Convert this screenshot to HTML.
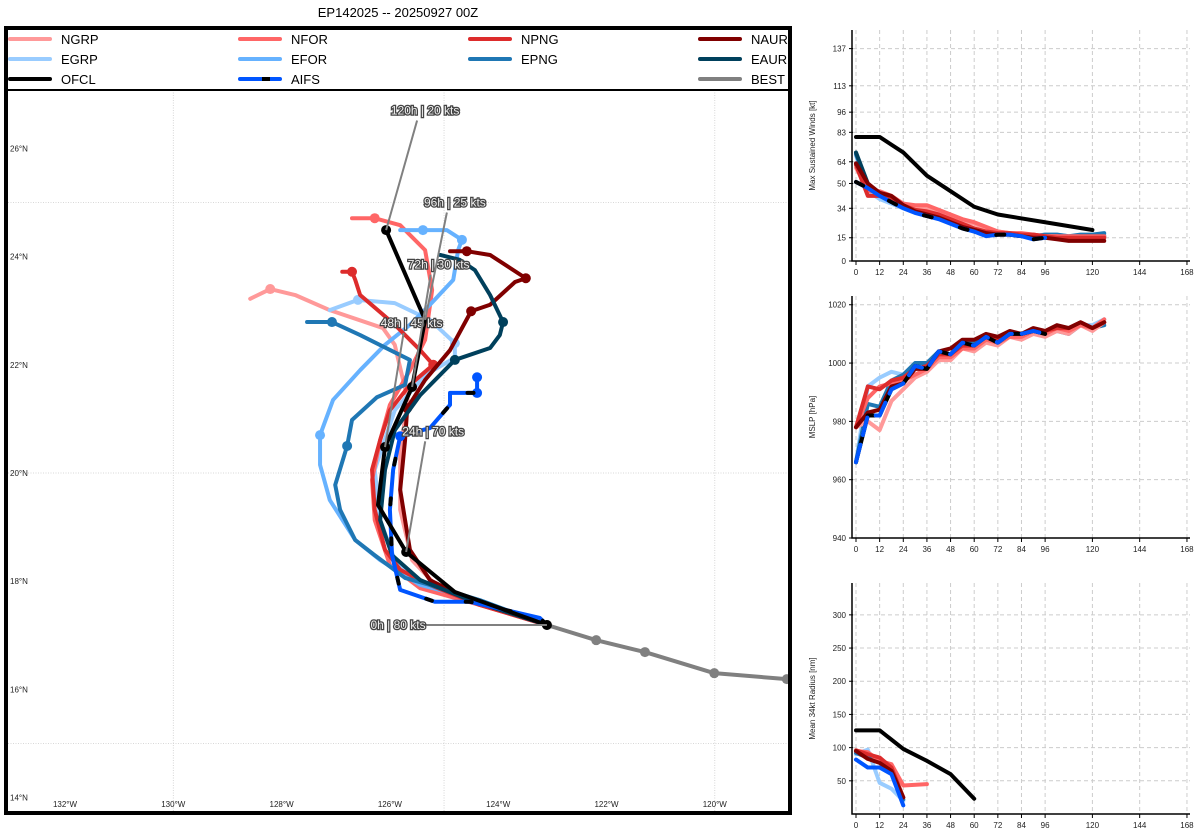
<!DOCTYPE html>
<html><head><meta charset="utf-8">
<style>
body{margin:0;background:#fff;width:1200px;height:840px;overflow:hidden;font-family:"Liberation Sans","DejaVu Sans",sans-serif;}
svg{position:absolute;left:0;top:0;}
</style></head>
<body>
<svg id="c" width="1200" height="840" viewBox="0 0 1200 840" xmlns="http://www.w3.org/2000/svg">
<text x="398" y="17" text-anchor="middle" font-size="13" fill="#000">EP142025 -- 20250927 00Z</text>
<g id="map"></g>
<g id="wind"></g>
<g id="mslp"></g>
<g id="rad"></g>
</svg>
<script>
// ---------- Map data (lon, lat) ----------
const bestLon=[-123.1,-122.19,-121.29,-120.01,-118.67];
const bestLat=[17.19,16.91,16.69,16.30,16.19];
const ofclLon=[-123.1,-124.8,-125.7,-126.22,-126.09,-125.59,-125.35,-126.07];
const ofclLat=[17.19,17.8,18.54,19.41,20.48,21.59,22.83,24.49];
const ngrpLon=[-123.1,-124.15,-125.07,-125.59,-125.81,-125.81,-125.67,-125.91,-126.13,-127.11,-127.75,-128.21,-128.58];
const ngrpLat=[17.19,17.56,17.84,18.39,19.32,20.39,21.35,22.37,22.68,23.01,23.29,23.40,23.22];
const egrpLon=[-123.1,-124.52,-125.44,-125.91,-126.18,-126.28,-125.91,-125.35,-124.8,-124.8,-125.26,-125.91,-126.59,-127.11];
const egrpLat=[17.19,17.65,17.93,18.39,19.13,20.06,21.16,21.81,22.13,22.40,22.83,23.14,23.20,23.01];
const nforLon=[-123.1,-124.34,-125.44,-126.0,-126.28,-126.33,-126.18,-126.0,-125.63,-125.35,-125.22,-125.35,-125.81,-126.28,-126.70];
const nforLat=[17.19,17.56,17.87,18.30,19.13,19.87,20.61,21.26,21.90,22.46,23.38,24.12,24.58,24.71,24.71];
const eforLon=[-123.1,-124.34,-125.44,-126.18,-126.64,-127.11,-127.29,-127.29,-127.05,-126.55,-126.09,-125.63,-125.26,-124.83,-124.74,-124.67,-124.95,-125.39,-125.81];
const eforLat=[17.19,17.65,17.93,18.39,18.76,19.50,20.15,20.70,21.35,21.90,22.37,22.74,23.11,23.57,24.12,24.31,24.49,24.49,24.49];
const npngLon=[-123.1,-124.34,-125.26,-125.81,-126.09,-126.28,-126.33,-126.18,-126.0,-125.63,-125.2,-125.44,-125.91,-126.55,-126.64,-126.70,-126.88];
const npngLat=[17.19,17.56,17.93,18.21,18.58,19.32,20.06,20.61,21.16,21.63,22.0,22.27,22.74,23.29,23.57,23.72,23.72];
const epngLon=[-123.1,-124.34,-125.26,-125.72,-126.28,-126.64,-126.92,-127.01,-126.79,-126.70,-126.24,-125.72,-125.63,-125.81,-126.55,-127.07,-127.53];
const epngLat=[17.19,17.65,17.93,18.06,18.48,18.76,19.32,19.78,20.50,20.98,21.40,21.63,22.09,22.18,22.55,22.79,22.79];
const naurLon=[-123.1,-124.52,-125.26,-125.63,-125.72,-125.81,-125.72,-125.68,-125.35,-124.89,-124.5,-124.15,-123.69,-123.49,-124.15,-124.58,-124.89];
const naurLat=[17.19,17.65,18.02,18.58,19.13,19.69,20.61,21.20,21.72,22.27,22.99,23.11,23.53,23.60,24.03,24.10,24.10];
const eaurLon=[-123.1,-124.52,-125.44,-125.96,-126.18,-126.09,-125.91,-125.44,-124.8,-124.15,-123.97,-123.91,-124.15,-124.43,-124.71,-125.07];
const eaurLat=[17.19,17.65,18.02,18.48,19.13,20.06,20.79,21.44,22.09,22.31,22.55,22.79,23.29,23.75,23.94,24.03];
const aifsLon=[-123.1,-123.23,-124.52,-125.17,-125.81,-125.96,-126.0,-125.94,-125.81,-125.26,-124.89,-124.89,-124.39,-124.39];
const aifsLat=[17.19,17.32,17.62,17.62,17.84,18.48,19.32,20.06,20.68,20.83,21.26,21.48,21.48,21.77];
const labelText=["0h | 80 kts","24h | 70 kts","48h | 45 kts","72h | 30 kts","96h | 25 kts","120h | 20 kts"];
const labelLon=[-125.85,-125.2,-125.6,-125.1,-124.8,-125.35];
const labelLat=[17.19,20.77,22.77,23.85,25.0,26.7];
const labelIdx=[0,2,4,5,6,7];
const lonTicks=[-132,-130,-128,-126,-124,-122,-120];
const latTicks=[14,16,18,20,22,24,26];

// ---------- Panel data ----------
const hours=[0,6,12,18,24,30,36,42,48,54,60,66,72,78,84,90,96,102,108,114,120,126];
const ofclH=[0,3,6,12,24,36,48,60,72,96,120];
const ofclWind=[80,80,80,80,70,55,45,35,30,25,20];
const windNGRP=[60,46,44,40,36,35,34,31,29,26,24,21,19,18,17,17,16,16,15,15,15,15];
const windNFOR=[62,45,45,42,37,36,36,33,30,27,25,22,19,18,18,17,16,16,16,16,16,16];
const windNPNG=[62,42,42,40,36,33,32,30,27,24,21,19,18,18,17,17,16,15,15,15,15,15];
const windNAUR=[63,50,44,42,36,32,30,28,25,22,20,18,17,17,16,15,15,14,13,13,13,13];
const windEGRP=[68,45,40,37,34,32,30,28,26,23,20,18,18,17,16,16,17,17,16,16,17,17];
const windEPNG=[69,48,42,40,37,33,30,28,26,23,20,18,18,17,16,16,17,17,16,17,17,18];
const windEAUR=[70,50,43,41,37,33,30,28,25,22,19,17,17,17,16,15,16,16,15,16,16,16];
const windAIFS=[51,47,42,38,34,31,29,27,24,21,19,16,17,17,16,14,15];
const mslpNGRP=[978,980,977,987,991,995,997,1001,1001,1005,1004,1007,1006,1009,1008,1010,1009,1011,1010,1013,1011,1014];
const mslpNFOR=[978,988,992,993,994,996,998,1002,1002,1005,1005,1008,1007,1009,1009,1011,1010,1012,1011,1013,1012,1015];
const mslpNPNG=[978,992,991,994,995,998,999,1003,1003,1006,1006,1009,1008,1010,1010,1011,1011,1012,1012,1014,1012,1014];
const mslpNAUR=[978,983,984,992,993,998,998,1004,1005,1008,1008,1010,1009,1011,1010,1012,1011,1013,1012,1014,1012,1014];
const mslpEGRP=[966,992,995,997,996,999,999,1004,1003,1007,1007,1009,1008,1010,1010,1011,1010,1012,1011,1013,1013,1015];
const mslpEPNG=[966,986,985,994,996,1000,1000,1004,1003,1007,1007,1009,1008,1010,1009,1010,1010,1011,1010,1013,1012,1013];
const mslpAIFS=[966,982,982,991,993,999,998,1004,1003,1007,1006,1009,1007,1010,1010,1011,1010];
const radH=[0,6,12,18,24,36];
const radOfclH=[0,6,12,24,36,48,60];
const radOFCL=[126,126,126,98,80,60,23];
const radNFOR=[95,93,80,75,43,45];
const radNPNG=[96,90,85,70,25];
const radNAUR=[95,83,77,65,25];
const radEGRP=[90,97,47,38,20];
const radEPNG=[92,85,78,62,22];
const radAIFS=[82,70,70,60,13];
const windTicks=[0,15,34,50,64,83,96,113,137];
const mslpTicks=[940,960,980,1000,1020];
const radTicks=[50,100,150,200,250,300];
const hourTicks=[0,12,24,36,48,60,72,84,96,120,144,168];

const NS="http://www.w3.org/2000/svg";
function mk(parent,tag,attrs,text){const e=document.createElementNS(NS,tag);for(const k in attrs)e.setAttribute(k,attrs[k]);if(text!==undefined)e.textContent=text;parent.appendChild(e);return e;}
const C={NGRP:"#ff9999",NFOR:"#ff6666",NPNG:"#dd2c2c",NAUR:"#800000",EGRP:"#99ccff",EFOR:"#66b2ff",EPNG:"#1f77b4",EAUR:"#00405c",OFCL:"#000",AIFS:"#0055ff",BEST:"#808080"};

// ---------- Map ----------
const map=document.getElementById('map');
const px=lon=>65+(lon+132)*54.15, py=lat=>473-(lat-20)*54.1;
[-130,-125,-120].forEach(l=>{const g=mk(map,'line',{x1:px(l),x2:px(l),y1:90,y2:812,stroke:'#ccc','stroke-width':0.8,'stroke-dasharray':'1,1.5'});});
[25,20,15].forEach(l=>{const g=mk(map,'line',{x1:8,x2:788,y1:py(l),y2:py(l),stroke:'#ccc','stroke-width':0.8,'stroke-dasharray':'1,1.5'});});
lonTicks.forEach(l=>{const t=mk(map,'text',{x:px(l),y:807,'font-size':8,'text-anchor':'middle',fill:'#222'},Math.abs(l)+'°W');});
latTicks.forEach(l=>{const t=mk(map,'text',{x:10,y:py(l)+3,'font-size':8,fill:'#222'},l+'°N');});
function track(lons,lats,color,w,name,dots){
  const pts=lons.map((v,i)=>px(v)+','+py(lats[i])).join(' ');
  const p=mk(map,'polyline',{points:pts,fill:'none',stroke:color,'stroke-width':w,'stroke-linejoin':'round','stroke-linecap':'round'});
  
  (dots||[]).forEach(i=>{const c=mk(map,'circle',{cx:px(lons[i]),cy:py(lats[i]),r:5,fill:color});});
  return p;
}
track(bestLon,bestLat,C.BEST,4,'best',[0,1,2,3,4]);
track(ngrpLon,ngrpLat,C.NGRP,4,'ngrp',[11]);
track(egrpLon,egrpLat,C.EGRP,4,'egrp',[9,12]);
track(nforLon,nforLat,C.NFOR,4,'nfor',[13]);
track(eforLon,eforLat,C.EFOR,4,'efor',[7,15,17]);
track(npngLon,npngLat,C.NPNG,4,'npng',[10,15]);
track(epngLon,epngLat,C.EPNG,4,'epng',[8,15]);
track(naurLon,naurLat,C.NAUR,4,'naur',[7,10,13,15]);
track(eaurLon,eaurLat,C.EAUR,4,'eaur',[8,11]);
track(aifsLon,aifsLat,C.AIFS,4,'aifs',[8,12,13]);
const ad=track(aifsLon,aifsLat,'#000',4,'aifs-dash',[]);ad.setAttribute('stroke-dasharray','6,34');
track(ofclLon,ofclLat,C.OFCL,4,'ofcl',[0,2,4,5,7]);
labelText.forEach((t,i)=>{
  const j=labelIdx[i];const lx=px(labelLon[i]),ly=py(labelLat[i]);
  const tx=px(ofclLon[j]),ty=py(ofclLat[j]);
  const l=mk(map,'line',{x1:i==0?lx+28:lx-8,y1:i==0?ly:ly+10,x2:tx,y2:ty,stroke:'#808080','stroke-width':2});
  
  const tt=mk(map,'text',{x:lx,y:ly+4,'font-size':12,'text-anchor':'middle',fill:'#eee',stroke:'#444','stroke-width':2.5,'paint-order':'stroke'},t);
  
});
// legend
const lg=mk(map,'rect',{x:6,y:28,width:784,height:62,fill:'#fff',stroke:'#000','stroke-width':2});

const legendNames=[["NGRP","NFOR","NPNG","NAUR"],["EGRP","EFOR","EPNG","EAUR"],["OFCL","AIFS",null,"BEST"]];
const colX=[10,240,470,700];
legendNames.forEach((row,r)=>row.forEach((n,c)=>{if(!n)return;const y=39+r*20;
  const l=mk(map,'line',{x1:colX[c],x2:colX[c]+40,y1:y,y2:y,stroke:C[n],'stroke-width':4,'stroke-linecap':'round'});
  
  if(n=='AIFS'){const d=mk(map,'line',{x1:colX[c]+22,x2:colX[c]+30,y1:y,y2:y,stroke:'#000','stroke-width':4});}
  const t=mk(map,'text',{x:colX[c]+51,y:y+5,'font-size':13,fill:'#000'},n);
  
}));
const fr=mk(map,'rect',{x:6,y:28,width:784,height:785,fill:'none',stroke:'#000','stroke-width':4});


// ---------- Panels ----------
function panel(gid,top,bottom,vmin,vmax,ticks,title,series){
  const g=document.getElementById(gid);
  const hx=h=>856+h*1.97, vy=v=>bottom-(v-vmin)/(vmax-vmin)*(bottom-top);
  ticks.forEach(v=>{const l=mk(g,'line',{x1:853,x2:1190,y1:vy(v),y2:vy(v),stroke:'#ccc','stroke-dasharray':'4,3','stroke-width':1});
    const t=mk(g,'text',{x:846,y:vy(v)+3,'font-size':8,'text-anchor':'end',fill:'#222'},v);
    const tk=mk(g,'line',{x1:849,x2:853,y1:vy(v),y2:vy(v),stroke:'#000'});});
  hourTicks.forEach(h=>{const l=mk(g,'line',{x1:hx(h),x2:hx(h),y1:top,y2:bottom,stroke:'#ccc','stroke-dasharray':'4,3','stroke-width':1});
    const tk=mk(g,'line',{x1:hx(h),x2:hx(h),y1:bottom,y2:bottom+4,stroke:'#000'});
    const t=mk(g,'text',{x:hx(h),y:bottom+14,'font-size':8,'text-anchor':'middle',fill:'#222'},h);});
  const ax=mk(g,'polyline',{points:`852,${top} 852,${bottom} 1190,${bottom}`,fill:'none',stroke:'#000','stroke-width':1.5});
  
  const yt=mk(g,'text',{x:0,y:0,'font-size':8,'text-anchor':'middle',fill:'#222',transform:`translate(815,${(top+bottom)/2}) rotate(-90)`},title);
  
  series.forEach(s=>{const pts=s.v.map((v,i)=>hx(s.h[i])+','+vy(v)).join(' ');
    const p=mk(g,'polyline',{points:pts,fill:'none',stroke:s.c,'stroke-width':s.w||4,'stroke-linejoin':'round','stroke-linecap':'round'});
    if(s.d)p.setAttribute('stroke-dasharray',s.d);
    });
}
const ah=hours.slice(0,17);
panel('wind',30,261,0,149,windTicks,'Max Sustained Winds [kt]',[
 {h:hours,v:windEGRP,c:C.EGRP,n:'egrp'},{h:hours,v:windEPNG,c:C.EPNG,n:'epng'},{h:hours,v:windEAUR,c:C.EAUR,n:'eaur'},
 {h:hours,v:windNGRP,c:C.NGRP,n:'ngrp'},{h:hours,v:windNFOR,c:C.NFOR,n:'nfor'},{h:hours,v:windNPNG,c:C.NPNG,n:'npng'},{h:hours,v:windNAUR,c:C.NAUR,n:'naur'},
 {h:ah,v:windAIFS,c:C.AIFS,n:'aifs'},{h:ah,v:windAIFS,c:'#000',n:'aifs-dash',d:'8,30'},{h:ofclH,v:ofclWind,c:'#000',n:'ofcl'}]);
panel('mslp',296,538,940,1023,mslpTicks,'MSLP [hPa]',[
 {h:hours,v:mslpEGRP,c:C.EGRP,n:'egrp'},{h:hours,v:mslpEPNG,c:C.EPNG,n:'epng'},
 {h:hours,v:mslpNGRP,c:C.NGRP,n:'ngrp'},{h:hours,v:mslpNFOR,c:C.NFOR,n:'nfor'},{h:hours,v:mslpNPNG,c:C.NPNG,n:'npng'},{h:hours,v:mslpNAUR,c:C.NAUR,n:'naur'},
 {h:ah,v:mslpAIFS,c:'#000',n:'aifs-under'},{h:ah,v:mslpAIFS,c:C.AIFS,n:'aifs',d:'18,10'}]);
panel('rad',583,814,0,348,radTicks,'Mean 34kt Radius [nm]',[
 {h:radH,v:radEGRP,c:C.EGRP,n:'egrp'},{h:radH,v:radEPNG,c:C.EPNG,n:'epng'},{h:radH,v:radNFOR,c:C.NFOR,n:'nfor'},
 {h:radH,v:radNPNG,c:C.NPNG,n:'npng'},{h:radH,v:radNAUR,c:C.NAUR,n:'naur'},{h:radH,v:radAIFS,c:C.AIFS,n:'aifs'},{h:radOfclH,v:radOFCL,c:'#000',n:'ofcl'}]);
</script>
</body></html>
